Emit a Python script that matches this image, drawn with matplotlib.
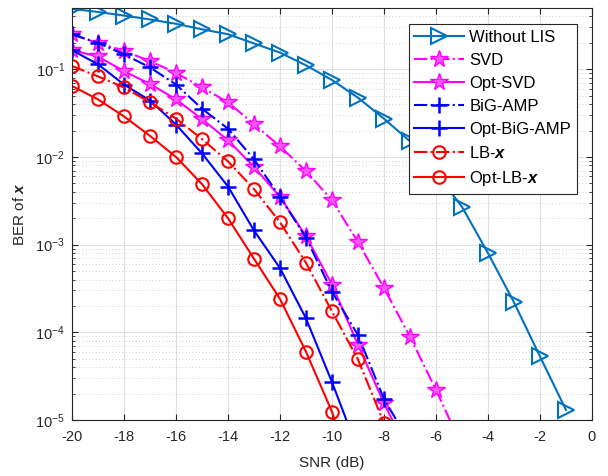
import numpy as np
import matplotlib
matplotlib.use("Agg")
import matplotlib.pyplot as plt
from matplotlib.ticker import LogLocator, NullFormatter

plt.rcParams["font.family"] = ["Liberation Sans", "DejaVu Sans"]
plt.rcParams["mathtext.fontset"] = "custom"
plt.rcParams["mathtext.rm"] = "Liberation Sans"
plt.rcParams["mathtext.it"] = "Liberation Sans:italic"
plt.rcParams["mathtext.bf"] = "Liberation Sans:bold"
plt.rcParams["mathtext.bfit"] = "Liberation Sans:italic:bold"
plt.rcParams["axes.unicode_minus"] = False

# SNR axis (dB)
snr_without = np.arange(-20, 0)
snr_svd = np.arange(-20, -4)
snr_opt_svd = np.arange(-20, -6)
snr_bigamp = np.arange(-20, -6)
snr_opt_bigamp = np.arange(-20, -8)
snr_lb = np.arange(-20, -7)
snr_opt_lb = np.arange(-20, -8)

# BER values
ber_without = [0.49, 0.45, 0.41, 0.37, 0.33, 0.286, 0.251, 0.197, 0.155, 0.111,
               0.0755, 0.0474, 0.0273, 0.0151, 0.0066, 0.0027, 8.0e-4, 2.2e-4,
               5.3e-5, 1.3e-5]
ber_svd = [0.25, 0.20, 0.162, 0.124, 0.091, 0.062, 0.042, 0.0236, 0.0132,
           0.0069, 0.0032, 1.07e-3, 3.2e-4, 8.9e-5, 2.2e-5, 5.0e-6]
ber_opt_svd = [0.165, 0.14, 0.095, 0.068, 0.0454, 0.027, 0.0155, 0.0077,
               0.0035, 1.25e-3, 3.5e-4, 7.2e-5, 1.55e-5, 4.0e-6]
ber_bigamp = [0.25, 0.20, 0.148, 0.105, 0.067, 0.0355, 0.021, 0.0094, 0.0035,
              1.2e-3, 2.9e-4, 9.3e-5, 1.73e-5, 5.5e-6]
ber_opt_bigamp = [0.165, 0.114, 0.067, 0.044, 0.0234, 0.011, 0.0046, 1.45e-3,
                  5.4e-4, 1.44e-4, 2.7e-5, 4.5e-6]
ber_lb = [0.109, 0.083, 0.062, 0.042, 0.0274, 0.016, 0.0089, 0.0043, 0.0018,
          6.2e-4, 1.73e-4, 4.9e-5, 9.2e-6]
ber_opt_lb = [0.0645, 0.0454, 0.029, 0.0174, 0.010, 0.0049, 0.0020, 6.9e-4,
              2.4e-4, 6.0e-5, 1.24e-5, 1.5e-6]

fig = plt.figure(figsize=(6.08, 4.76), dpi=100)
ax = fig.add_axes([72 / 608, 56 / 476, 520 / 608, 412 / 476])

lw = 1.5
ax.plot(snr_without, ber_without, "->", color="#0072BD", lw=lw, ms=11,
        mfc="none", mew=1.5, label="Without LIS")
ax.plot(snr_svd, ber_svd, "-.*", color="#FF00FF", lw=lw, ms=13,
        mfc="#FF55FF", mew=1.0, label="SVD")
ax.plot(snr_opt_svd, ber_opt_svd, "-*", color="#FF00FF", lw=lw, ms=13,
        mfc="#FF55FF", mew=1.0, label="Opt-SVD")
ax.plot(snr_bigamp, ber_bigamp, "-.+", color="#0000FF", lw=lw, ms=11,
        mew=1.8, label="BiG-AMP")
ax.plot(snr_opt_bigamp, ber_opt_bigamp, "-+", color="#0000FF", lw=lw, ms=11,
        mew=1.8, label="Opt-BiG-AMP")
ax.plot(snr_lb, ber_lb, "-.o", color="#FF0000", lw=lw, ms=9, mfc="none",
        mew=1.5, label=r"LB-$\mathbfit{x}$")
ax.plot(snr_opt_lb, ber_opt_lb, "-o", color="#FF0000", lw=lw, ms=9,
        mfc="none", mew=1.5, label=r"Opt-LB-$\mathbfit{x}$")

ax.set_yscale("log")
ax.set_xlim(-20, 0)
ax.set_ylim(1e-5, 0.5)
ax.set_xticks(np.arange(-20, 1, 2))
ax.yaxis.set_major_locator(LogLocator(base=10, numticks=10))
ax.yaxis.set_minor_locator(LogLocator(base=10, subs=np.arange(2, 10), numticks=20))
ax.yaxis.set_minor_formatter(NullFormatter())

ax.grid(True, which="major", color="#DFDFDF", lw=0.8)
ax.grid(True, which="minor", axis="y", color="#C0C0C0", lw=0.6, ls=(0, (1, 3)))
ax.set_axisbelow(True)

ax.tick_params(which="both", direction="in", top=True, right=True,
               colors="#262626", labelsize=10.5)
ax.tick_params(which="major", length=4)
ax.tick_params(which="minor", length=2)
ax.tick_params(axis="x", pad=7)
ax.tick_params(axis="y", pad=5)
for s in ax.spines.values():
    s.set_color("#262626")
    s.set_linewidth(0.8)

ax.set_xlabel("SNR (dB)", fontsize=11, color="#262626")
ax.set_ylabel(r"BER of $\mathbfit{x}$", fontsize=11, color="#262626")
ax.xaxis.set_label_coords(0.5, -0.088)
ax.yaxis.set_label_coords(-0.086, 0.5)

leg = ax.legend(loc="upper right", bbox_to_anchor=(0.971, 0.961),
                borderaxespad=0, fontsize=12, fancybox=False, framealpha=1,
                edgecolor="#262626", handlelength=3.0, handletextpad=0.3,
                labelspacing=0.48, borderpad=0.35)
leg.get_frame().set_linewidth(0.8)

fig.savefig("out.png", dpi=100)
